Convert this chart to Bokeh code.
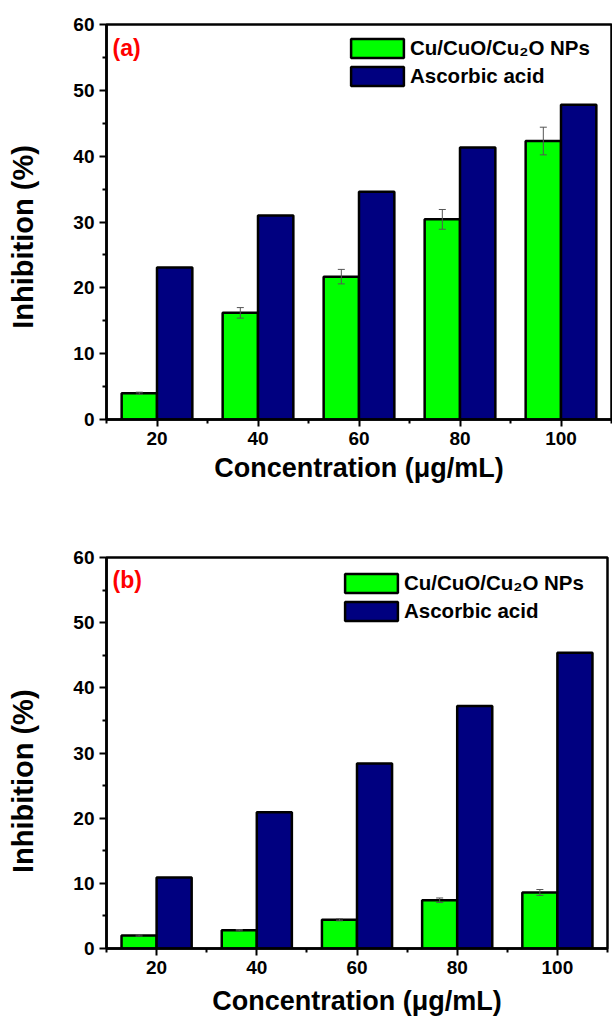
import numpy as np
from bokeh.plotting import figure
from bokeh.models import (ColumnDataSource, FixedTicker, Whisker, TeeHead, Label,
                          Legend, LegendItem, Range1d)
from bokeh.layouts import column, row
from bokeh.embed import file_html
from bokeh.resources import INLINE

# ---------------- data ----------------
conc = [20, 40, 60, 80, 100]

a_np = [4.0, 16.2, 21.7, 30.4, 42.3]
a_np_err = [0.15, 0.8, 1.1, 1.5, 2.1]
a_aa = [23.1, 31.0, 34.6, 41.3, 47.8]

b_np = [2.0, 2.8, 4.4, 7.4, 8.6]
b_np_err = [0.1, 0.1, 0.15, 0.35, 0.45]
b_aa = [10.9, 20.9, 28.4, 37.2, 45.4]

x_ticks = [20, 40, 60, 80, 100]
x_minor = [10, 30, 50, 70, 90, 110]
y_ticks = [0, 10, 20, 30, 40, 50, 60]
y_minor = [5, 15, 25, 35, 45, 55]

series_names = ["Cu/CuO/Cu\u2082O NPs", "Ascorbic acid"]
x_title = "Concentration (\u03bcg/mL)"
y_title = "Inhibition (%)"

FONT = "Liberation Sans"
GREEN = "#00ff00"
NAVY = "#000080"
BAR_W = 7
TITLE_W = 44


def title_strip(height, center_from_top):
    """Narrow strip to the left of a panel that carries the rotated y-axis title."""
    t = figure(width=TITLE_W, height=height, x_range=Range1d(0, TITLE_W),
               y_range=Range1d(0, height), output_backend="svg", toolbar_location=None,
               x_axis_location=None, y_axis_location=None,
               min_border_left=0, min_border_right=0, min_border_top=0, min_border_bottom=0)
    t.xgrid.visible = False
    t.ygrid.visible = False
    t.outline_line_color = None
    t.background_fill_color = "white"
    t.border_fill_color = "white"
    t.add_layout(Label(x=22, y=height - center_from_top, text=y_title, angle=np.pi / 2,
                       text_font=FONT, text_font_style="bold", text_font_size="29px",
                       text_color="black", text_align="center", text_baseline="middle"))
    return t


def make_panel(tag, np_vals, np_err, aa_vals, height, b_top, b_bottom, b_right,
               legend_xy, xlabel_standoff):
    src = ColumnDataSource(dict(
        xg=[c - BAR_W / 2 for c in conc],
        xb=[c + BAR_W / 2 for c in conc],
        np=np_vals, aa=aa_vals,
        lo=[v - e for v, e in zip(np_vals, np_err)],
        hi=[v + e for v, e in zip(np_vals, np_err)],
    ))
    p = figure(width=612 - TITLE_W, height=height, x_range=Range1d(10, 110),
               y_range=Range1d(0, 60), output_backend="svg", toolbar_location=None,
               min_border_left=106 - TITLE_W, min_border_right=b_right,
               min_border_top=b_top, min_border_bottom=b_bottom)
    p.xgrid.visible = False
    p.ygrid.visible = False
    p.background_fill_color = "white"
    p.border_fill_color = "white"
    p.outline_line_color = "black"
    p.outline_line_width = 2.5

    r1 = p.vbar(x="xg", top="np", width=BAR_W, source=src, fill_color=GREEN,
                line_color="black", line_width=2.5)
    r2 = p.vbar(x="xb", top="aa", width=BAR_W, source=src, fill_color=NAVY,
                line_color="black", line_width=2.5)

    w = Whisker(base="xg", upper="hi", lower="lo", source=src, level="overlay",
                line_color="#555555", line_width=1,
                upper_head=TeeHead(size=7, line_color="#555555", line_width=1),
                lower_head=TeeHead(size=7, line_color="#555555", line_width=1))
    p.add_layout(w)

    p.xaxis.ticker = FixedTicker(ticks=x_ticks, minor_ticks=x_minor)
    p.yaxis.ticker = FixedTicker(ticks=y_ticks, minor_ticks=y_minor)
    for ax in (p.xaxis[0], p.yaxis[0]):
        ax.axis_line_width = 2.5
        ax.axis_line_color = "black"
        ax.major_tick_line_width = 2
        ax.minor_tick_line_width = 2
        ax.major_tick_out = 7
        ax.major_tick_in = 0
        ax.minor_tick_out = 4
        ax.minor_tick_in = 0
        ax.major_label_text_font = FONT
        ax.major_label_text_font_style = "bold"
        ax.major_label_text_font_size = "19px"
        ax.major_label_text_color = "black"
        ax.major_label_standoff = 5

    p.xaxis.axis_label = x_title
    p.xaxis.axis_label_text_font = FONT
    p.xaxis.axis_label_text_font_style = "bold"
    p.xaxis.axis_label_text_font_size = "27px"
    p.xaxis.axis_label_text_color = "black"
    p.xaxis.axis_label_standoff = xlabel_standoff

    legend = Legend(items=[LegendItem(label=series_names[0], renderers=[r1]),
                           LegendItem(label=series_names[1], renderers=[r2])],
                    location=legend_xy, padding=0, margin=0, spacing=4,
                    glyph_width=66, glyph_height=24, label_height=24,
                    label_standoff=0, label_text_font=FONT,
                    label_text_font_style="bold", label_text_font_size="20.5px",
                    label_text_color="black",
                    border_line_alpha=0, background_fill_alpha=0)
    p.add_layout(legend)

    p.add_layout(Label(x=11.2, y=56.5, text=tag, text_font=FONT, text_font_style="bold",
                       text_font_size="23px", text_color="#ff0000",
                       text_align="left", text_baseline="middle"))
    return p


H1, H2 = 517, 505
p1 = make_panel("(a)", a_np, a_np_err, a_aa, height=H1, b_top=24, b_bottom=98, b_right=1,
                legend_xy=(238, 331), xlabel_standoff=5)
p2 = make_panel("(b)", b_np, b_np_err, b_aa, height=H2, b_top=40, b_bottom=74, b_right=5,
                legend_xy=(232, 325), xlabel_standoff=9)
t1 = title_strip(H1, 278)
t2 = title_strip(H2, 289)

layout = column(row(t1, p1, spacing=0), row(t2, p2, spacing=0), spacing=0)
open("out.html", "w").write(file_html(layout, INLINE))
